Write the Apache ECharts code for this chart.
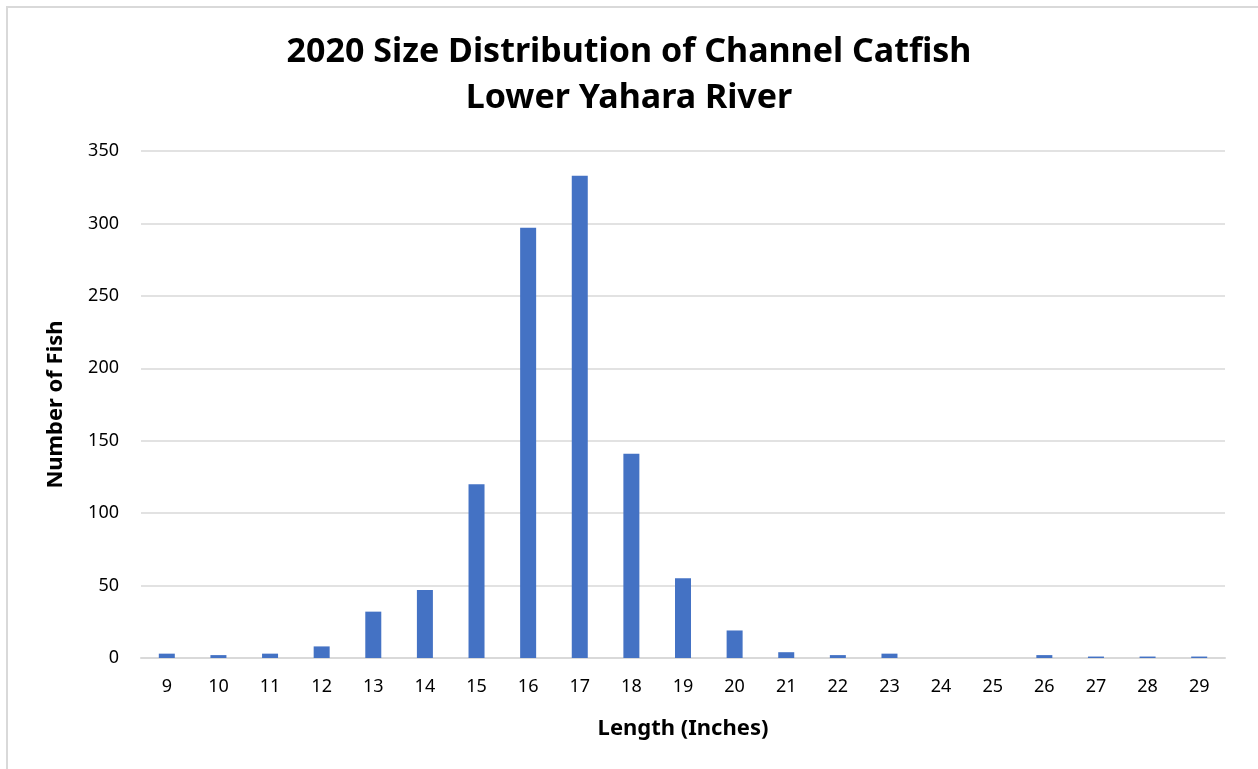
<!DOCTYPE html>
<html>
<head>
<meta charset="utf-8">
<script src="https://cdn.jsdelivr.net/npm/echarts@6/dist/echarts.min.js"></script>
<style>
  html, body { margin: 0; padding: 0; background: #fff; }
  #chart { width: 1258px; height: 769px; }
</style>
</head>
<body>
<div id="chart"></div>
<script>
  // lengths in inches and number of fish caught
  const lengths = ['9', '10', '11', '12', '13', '14', '15', '16', '17', '18', '19',
                   '20', '21', '22', '23', '24', '25', '26', '27', '28', '29'];
  const fishCounts = [3, 2, 3, 8, 32, 47, 120, 297, 333, 141, 55,
                      19, 4, 2, 3, 0, 0, 2, 1, 1, 1];

  const myChart = echarts.init(document.getElementById('chart'));
  const font = '"Noto Sans", "Open Sans", sans-serif';

  myChart.setOption({
    animation: false,
    title: {
      text: '2020 Size Distribution of Channel Catfish\nLower Yahara River',
      left: 'center',
      top: 24,
      textStyle: { fontFamily: font, fontSize: 34, fontWeight: 'bold', color: '#000', lineHeight: 46 }
    },
    graphic: [{
      type: 'rect',
      shape: { x: 7, y: 7, width: 1260, height: 770 },
      style: { fill: 'none', stroke: '#d9d9d9', lineWidth: 2 }
    }],
    grid: { left: 141, right: 33, top: 151, bottom: 111 },
    xAxis: {
      type: 'category',
      data: lengths,
      name: 'Length (Inches)',
      nameLocation: 'middle',
      nameGap: 60,
      nameTextStyle: { fontFamily: font, fontSize: 22, fontWeight: 'bold', color: '#000' },
      axisLine: { lineStyle: { color: '#d9d9d9', width: 2 } },
      axisTick: { show: false },
      axisLabel: { fontFamily: font, fontSize: 18, color: '#000', margin: 20 }
    },
    yAxis: {
      type: 'value',
      min: 0,
      max: 350,
      interval: 50,
      name: 'Number of Fish',
      nameLocation: 'middle',
      nameGap: 74,
      nameTextStyle: { fontFamily: font, fontSize: 22, fontWeight: 'bold', color: '#000' },
      axisLine: { show: false },
      axisTick: { show: false },
      axisLabel: { fontFamily: font, fontSize: 18, color: '#000', margin: 22 },
      splitLine: { lineStyle: { color: '#d9d9d9', width: 1.5 } }
    },
    series: [{
      type: 'bar',
      data: fishCounts,
      barWidth: 16,
      itemStyle: { color: '#4472c4' }
    }]
  });
</script>
</body>
</html>
